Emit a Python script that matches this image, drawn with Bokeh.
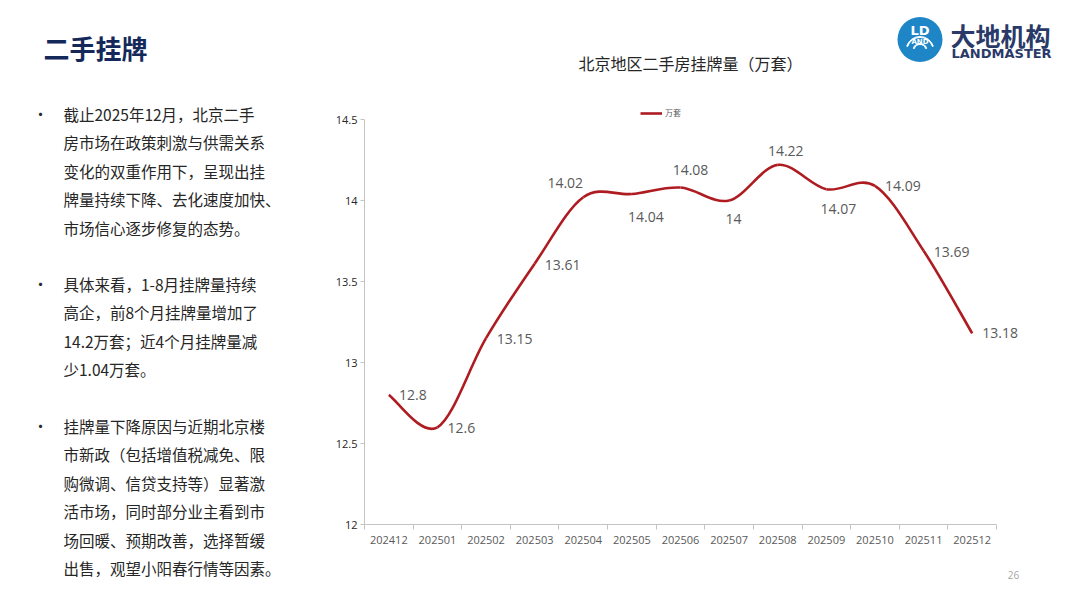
import numpy as np
from bokeh.plotting import figure
from bokeh.layouts import row, column
from bokeh.models import (Range1d, FixedTicker, NumeralTickFormatter, LabelSet,
                          ColumnDataSource, Legend, LegendItem)
from bokeh.core.properties import value
from bokeh.embed import file_html
from bokeh.resources import INLINE

# ---------------- data ----------------
months = ["202412", "202501", "202502", "202503", "202504", "202505", "202506",
          "202507", "202508", "202509", "202510", "202511", "202512"]
listings = [12.8, 12.6, 13.15, 13.61, 14.02, 14.04, 14.08, 14.0, 14.22, 14.07, 14.09, 13.69, 13.18]
listing_labels = ["12.8", "12.6", "13.15", "13.61", "14.02", "14.04", "14.08", "14",
                  "14.22", "14.07", "14.09", "13.69", "13.18"]
y_ticks = [12, 12.5, 13, 13.5, 14, 14.5]
y_min, y_max = 12, 14.5
series_name = "万套"
chart_title = "北京地区二手房挂牌量（万套）"
slide_title = "二手挂牌"
brand_cn = "大地机构"
brand_en = "LANDMASTER"
brand_mark = "LD"
brand_sub = "AND"
page_no = "26"
bullets = [
    ["截止2025年12月，北京二手", "房市场在政策刺激与供需关系", "变化的双重作用下，呈现出挂",
     "牌量持续下降、去化速度加快、", "市场信心逐步修复的态势。"],
    ["具体来看，1-8月挂牌量持续", "高企，前8个月挂牌量增加了", "14.2万套；近4个月挂牌量减",
     "少1.04万套。"],
    ["挂牌量下降原因与近期北京楼", "市新政（包括增值税减免、限", "购微调、信贷支持等）显著激",
     "活市场，同时部分业主看到市", "场回暖、预期改善，选择暂缓", "出售，观望小阳春行情等因素。"],
]

# ---------------- style ----------------
label_dx = [24, 24, 28.5, 28, -18, 14, 10, 4.5, 8, 12, 28, 28, 28]          # px right
label_dy = [0.5, 1, 1, 1, -14, 22.5, -18, 18, -13.5, 19.5, 0.5, 1, 0]       # px down
LINE_COLOR = "#AE1C22"
AXIS_COLOR = "#C4C4C4"
TEXT_COLOR = "#262626"
NAVY = "#14285A"
CJK = "Noto Sans CJK SC"
NUM = "Open Sans"

W, H = 1080, 608
LEFT_W = 330            # width of the left text panel
HEAD_H = 100            # height of header above the chart
FOOT_H = 48             # height of footer below the chart
RIGHT_W = W - LEFT_W
CHART_H = H - HEAD_H - FOOT_H
FL, AXIS_R, FT, FB = 364, 996, 119, 524   # axis box in page pixels


def canvas(w, h, x0=0, border_left=0):
    # a blank drawing area whose data units are page pixels (x from x0)
    f = figure(width=w, height=h, output_backend="svg", toolbar_location=None,
               x_range=Range1d(x0, x0 + w - border_left), y_range=Range1d(h, 0),
               x_axis_type=None, y_axis_type=None,
               min_border_left=border_left, min_border_right=0,
               min_border_top=0, min_border_bottom=0)
    f.outline_line_color = None
    f.background_fill_color = "white"
    f.border_fill_color = "white"
    return f


def put_text(f, xs, ys, texts, size, color, font=CJK, style="normal", align="left"):
    f.text(x=xs, y=ys, text=texts, text_font=value(font), text_font_size=value(f"{size}px"),
           text_color=color, text_font_style=style, text_align=align, text_baseline="middle")


# ---------------- left panel: title + bullets ----------------
left = canvas(LEFT_W, H)
put_text(left, [43], [47], [slide_title], 26, NAVY, style="bold")
starts = [113, 283, 425]
bx, by, lx, ly, lt = [], [], [], [], []
for para, y0 in zip(bullets, starts):
    bx.append(40); by.append(y0)
    for k, line in enumerate(para):
        lx.append(63); ly.append(y0 + 28.5 * k); lt.append(line)
put_text(left, bx, by, ["•"] * len(bx), 15, TEXT_COLOR, align="center")
put_text(left, lx, ly, lt, 15.5, TEXT_COLOR)

# ---------------- right header: logo + chart title (page x coordinates) ----------------
head = canvas(RIGHT_W, HEAD_H, x0=FL, border_left=FL - LEFT_W)
put_text(head, [690], [62], [chart_title], 16, TEXT_COLOR, align="center")
head.scatter(x=[919.5], y=[39], size=45, marker="circle", fill_color="#1E86C6", line_color=None)
head.annular_wedge(x=[919.5] * 2, y=[50, 50], inner_radius=[6, 13], outer_radius=[7, 14],
                   start_angle=np.pi * 0.1, end_angle=np.pi * 0.9, color="white",
                   direction="anticlock")
put_text(head, [919.5], [30], [brand_mark], 13, "white", font="DejaVu Sans",
         style="bold", align="center")
put_text(head, [919.5], [41], [brand_sub], 7, "white", font="DejaVu Sans",
         style="bold", align="center")
put_text(head, [950], [34], [brand_cn], 25, "#2A3A68", style="bold")
put_text(head, [951], [53], [brand_en], 13, "#2A3A68", font="DejaVu Sans", style="bold")

# ---------------- chart ----------------
n = len(months)
unit_x = (AXIS_R - FL) / n
unit_y = (FB - FT) / (y_max - y_min)
x_end = -0.5 + (W - FL) / unit_x                 # frame runs to the page edge
y_top = y_max + (FT - HEAD_H) / unit_y           # frame extends above the axis top
p = figure(width=RIGHT_W, height=CHART_H, output_backend="svg", toolbar_location=None,
           x_range=Range1d(-0.5, x_end), y_range=Range1d(y_min, y_top),
           min_border_left=FL - LEFT_W, min_border_right=0,
           min_border_top=0, min_border_bottom=(H - FOOT_H) - FB)
p.xgrid.visible = False
p.ygrid.visible = False
p.outline_line_color = None
p.background_fill_color = "white"
p.border_fill_color = "white"

# smoothed line (Catmull-Rom style Bezier segments through the data)
xs = np.arange(n, dtype=float)
ys = np.array(listings, dtype=float)
xp = np.concatenate([[xs[0]], xs, [xs[-1]]])
yp = np.concatenate([[ys[0]], ys, [ys[-1]]])
seg = dict(x0=[], y0=[], x1=[], y1=[], cx0=[], cy0=[], cx1=[], cy1=[])
for i in range(n - 1):
    j = i + 1
    seg["x0"].append(xp[j]); seg["y0"].append(yp[j])
    seg["x1"].append(xp[j + 1]); seg["y1"].append(yp[j + 1])
    seg["cx0"].append(xp[j] + (xp[j + 1] - xp[j - 1]) / 6)
    seg["cy0"].append(yp[j] + (yp[j + 1] - yp[j - 1]) / 6)
    seg["cx1"].append(xp[j + 1] - (xp[j + 2] - xp[j]) / 6)
    seg["cy1"].append(yp[j + 1] - (yp[j + 2] - yp[j]) / 6)
r = p.bezier(x0="x0", y0="y0", x1="x1", y1="y1", cx0="cx0", cy0="cy0", cx1="cx1", cy1="cy1",
             source=ColumnDataSource(seg), line_color=LINE_COLOR, line_width=2.6)

lab_src = ColumnDataSource(dict(x=xs, y=ys, text=listing_labels,
                                dx=label_dx, dy=[-d for d in label_dy]))
p.add_layout(LabelSet(x="x", y="y", text="text", source=lab_src, x_offset="dx", y_offset="dy",
                      text_align="center", text_baseline="middle", text_font_size="14px",
                      text_color="#595959", text_font=value(NUM)))

xa = p.xaxis[0]
xa.bounds = (-0.5, n - 0.5)
xa.ticker = FixedTicker(ticks=list(range(n)), minor_ticks=[i - 0.5 for i in range(n + 1)])
xa.major_label_overrides = {i: m for i, m in enumerate(months)}
xa.major_tick_in = 0
xa.major_tick_out = 0
xa.minor_tick_in = 0
xa.minor_tick_out = 5
xa.minor_tick_line_color = AXIS_COLOR
xa.axis_line_color = AXIS_COLOR
xa.major_label_text_font_size = "11px"
xa.major_label_text_color = "#595959"
xa.major_label_text_font = NUM
xa.major_label_standoff = 6

ya = p.yaxis[0]
ya.bounds = (y_min, y_max)
ya.ticker = FixedTicker(ticks=y_ticks)
ya.formatter = NumeralTickFormatter(format="0.[0]")
ya.major_tick_in = 0
ya.major_tick_out = 4
ya.minor_tick_line_color = None
ya.major_tick_line_color = AXIS_COLOR
ya.axis_line_color = AXIS_COLOR
ya.major_label_text_font_size = "11px"
ya.major_label_text_color = TEXT_COLOR
ya.major_label_text_font = NUM
ya.major_label_standoff = 3

legend = Legend(items=[LegendItem(label=series_name, renderers=[r])],
                location=(640 - FL, FB - 118), orientation="horizontal",
                glyph_width=22, glyph_height=10, label_height=10, label_standoff=3,
                padding=0, margin=0, spacing=0,
                border_line_alpha=0, background_fill_alpha=0,
                label_text_font_size="8px", label_text_color="#595959", label_text_font=CJK)
p.add_layout(legend)

# ---------------- footer ----------------
foot = canvas(RIGHT_W, FOOT_H, x0=FL, border_left=FL - LEFT_W)
put_text(foot, [1013], [574 - (H - FOOT_H)], [page_no], 10, "#A6A6A6", font=NUM, align="center")

layout = row(left, column(head, p, foot, spacing=0), spacing=0)
open("out.html", "w").write(file_html(layout, INLINE))
